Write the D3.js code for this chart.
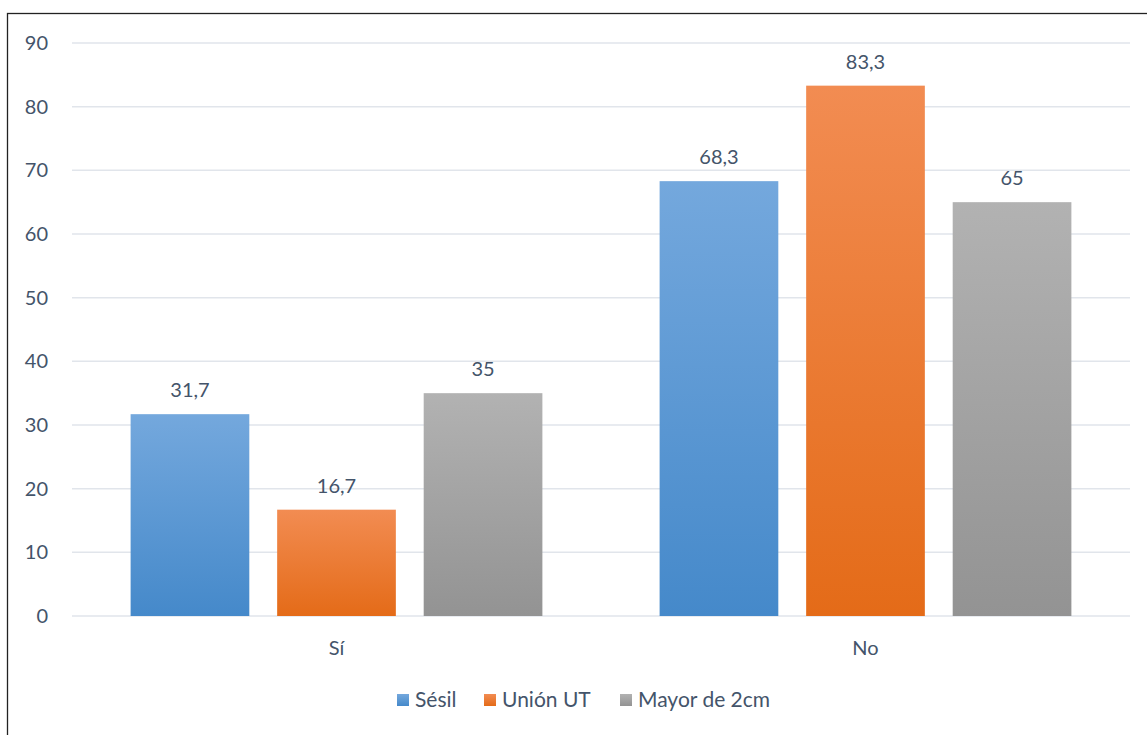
<!DOCTYPE html>
<html>
<head>
<meta charset="utf-8">
<script src="https://cdn.jsdelivr.net/npm/d3@7"></script>
<style>
  body { margin: 0; background: #fff; }
  svg text { font-family: Lato, "Open Sans", sans-serif; fill: #44546A; }
</style>
</head>
<body>
<svg id="chart" width="1147" height="735"></svg>
<script>
// ---- Data ----
const categories = ["Sí", "No"];
const seriesNames = ["Sésil", "Unión UT", "Mayor de 2cm"];
const sesil = [31.7, 68.3];
const unionUT = [16.7, 83.3];
const mayor2cm = [35, 65];
const yTicks = [0, 10, 20, 30, 40, 50, 60, 70, 80, 90];

const seriesValues = [sesil, unionUT, mayor2cm];
const gradients = [
  ["#74a8dd", "#4589ca"],
  ["#f28c52", "#e46b18"],
  ["#b2b2b2", "#939393"]
];

const svg = d3.select("#chart");
const margin = { left: 72, right: 17, top: 43, bottom: 119 };
const W = 1147, H = 735;

// chart frame
svg.append("rect")
  .attr("x", 7.5).attr("y", 13.5)
  .attr("width", W + 10).attr("height", H + 10)
  .attr("fill", "none").attr("stroke", "#222").attr("stroke-width", 1.3);

const defs = svg.append("defs");
gradients.forEach((g, i) => {
  const lg = defs.append("linearGradient")
    .attr("id", "grad" + i)
    .attr("x1", 0).attr("y1", 0).attr("x2", 0).attr("y2", 1);
  lg.append("stop").attr("offset", "0%").attr("stop-color", g[0]);
  lg.append("stop").attr("offset", "100%").attr("stop-color", g[1]);
});

const x0 = d3.scaleBand()
  .domain(categories)
  .range([margin.left, W - margin.right]);

const x1 = d3.scaleBand()
  .domain(seriesNames)
  .range([0, x0.bandwidth()])
  .paddingInner(0.19)
  .paddingOuter(0.40);

const y = d3.scaleLinear()
  .domain([0, 90])
  .range([H - margin.bottom, margin.top]);

// ---- Gridlines ----
svg.append("g")
  .selectAll("line")
  .data(yTicks)
  .join("line")
  .attr("x1", margin.left).attr("x2", W - margin.right)
  .attr("y1", d => y(d)).attr("y2", d => y(d))
  .attr("stroke", "#e1e5eb").attr("stroke-width", 1.5);

// ---- Y labels ----
svg.append("g")
  .selectAll("text")
  .data(yTicks)
  .join("text")
  .attr("x", 48).attr("y", d => y(d))
  .attr("dy", "0.35em")
  .attr("text-anchor", "end")
  .style("font-size", "20px")
  .text(d => d);

// ---- Bars ----
const groups = svg.append("g")
  .selectAll("g")
  .data(categories)
  .join("g")
  .attr("transform", d => `translate(${x0(d)},0)`);

groups.selectAll("rect")
  .data((c, ci) => seriesNames.map((s, si) => ({ s, si, v: seriesValues[si][ci] })))
  .join("rect")
  .attr("x", d => x1(d.s))
  .attr("width", x1.bandwidth())
  .attr("y", d => y(d.v))
  .attr("height", d => y(0) - y(d.v))
  .attr("fill", d => `url(#grad${d.si})`);

groups.selectAll("text")
  .data((c, ci) => seriesNames.map((s, si) => ({ s, si, v: seriesValues[si][ci] })))
  .join("text")
  .attr("x", d => x1(d.s) + x1.bandwidth() / 2)
  .attr("y", d => y(d.v) - 17)
  .attr("text-anchor", "middle")
  .style("font-size", "20px")
  .text(d => String(d.v).replace(".", ","));

// ---- Category labels ----
svg.append("g")
  .selectAll("text")
  .data(categories)
  .join("text")
  .attr("x", d => x0(d) + x0.bandwidth() / 2)
  .attr("y", 648)
  .attr("dy", "0.35em")
  .attr("text-anchor", "middle")
  .style("font-size", "20px")
  .text(d => d);

// ---- Legend ----
const legendX = [397, 484, 620];
const legend = svg.append("g")
  .selectAll("g")
  .data(seriesNames)
  .join("g")
  .attr("transform", (d, i) => `translate(${legendX[i]},700)`);

legend.append("rect")
  .attr("x", 0).attr("y", -6)
  .attr("width", 12).attr("height", 12)
  .attr("fill", (d, i) => `url(#grad${i})`);

legend.append("text")
  .attr("x", 18).attr("y", 0)
  .attr("dy", "0.35em")
  .style("font-size", "21px")
  .text(d => d);
</script>
</body>
</html>
